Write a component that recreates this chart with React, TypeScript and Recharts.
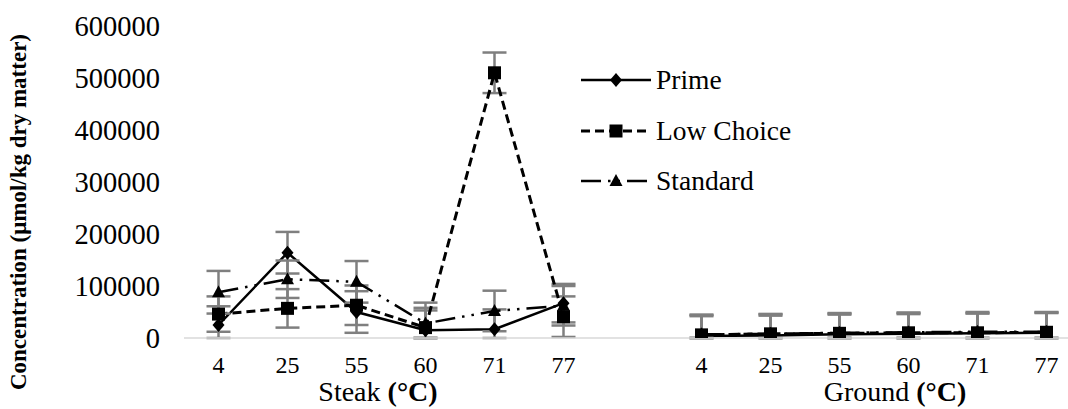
import React from "react";
import { LineChart, Line, XAxis, YAxis, ErrorBar, Legend, Customized } from "recharts";

// --- DATA ---
const TEMPS = ["4", "25", "55", "60", "71", "77"];
const Y_TICKS = [0, 100000, 200000, 300000, 400000, 500000, 600000];

const PRIME_STEAK = [25000, 164000, 50000, 15000, 17000, 67000];
const PRIME_GROUND = [4000, 5000, 7000, 8000, 9000, 10000];
const LOW_CHOICE_STEAK = [46000, 57000, 63000, 20000, 510000, 41000];
const LOW_CHOICE_GROUND = [6000, 8000, 9000, 10000, 10000, 11000];
const STANDARD_STEAK = [88000, 113000, 108000, 28000, 52000, 62000];
const STANDARD_GROUND = [7000, 8000, 10000, 11000, 12000, 12000];

const PRIME_ERR_STEAK = [36000, 40000, 40000, 38000, 38000, 37000];
const PRIME_ERR_GROUND = [38000, 38000, 38000, 38000, 38000, 38000];
const LOW_CHOICE_ERR_STEAK = [34000, 37000, 38000, 38000, 39000, 39000];
const LOW_CHOICE_ERR_GROUND = [38000, 38000, 38000, 38000, 38000, 38000];
const STANDARD_ERR_STEAK = [41000, 36000, 40000, 40000, 39000, 38000];
const STANDARD_ERR_GROUND = [38000, 38000, 38000, 38000, 38000, 38000];

const FONT = "Liberation Serif, serif";
const ERR_COLOR = "#7f7f7f";

// one blank slot separates the two groups
const data = [
  ...TEMPS.map((t, i) => ({
    slot: `steak-${t}`,
    prime: PRIME_STEAK[i],
    lowChoice: LOW_CHOICE_STEAK[i],
    standard: STANDARD_STEAK[i],
    primeErr: PRIME_ERR_STEAK[i],
    lowChoiceErr: LOW_CHOICE_ERR_STEAK[i],
    standardErr: STANDARD_ERR_STEAK[i],
  })),
  { slot: "gap-", prime: null, lowChoice: null, standard: null, primeErr: null, lowChoiceErr: null, standardErr: null },
  ...TEMPS.map((t, i) => ({
    slot: `ground-${t}`,
    prime: PRIME_GROUND[i],
    lowChoice: LOW_CHOICE_GROUND[i],
    standard: STANDARD_GROUND[i],
    primeErr: PRIME_ERR_GROUND[i],
    lowChoiceErr: LOW_CHOICE_ERR_GROUND[i],
    standardErr: STANDARD_ERR_GROUND[i],
  })),
];

// --- MARKERS ---
function Diamond({ cx, cy }: { cx: number; cy: number }) {
  return <polygon points={`${cx},${cy - 7} ${cx + 6},${cy} ${cx},${cy + 7} ${cx - 6},${cy}`} fill="#000" />;
}
function Square({ cx, cy }: { cx: number; cy: number }) {
  return <rect x={cx - 6.5} y={cy - 6.5} width={13} height={13} fill="#000" />;
}
function Triangle({ cx, cy }: { cx: number; cy: number }) {
  return <polygon points={`${cx},${cy - 7} ${cx + 6.5},${cy + 5} ${cx - 6.5},${cy + 5}`} fill="#000" />;
}

const SERIES = [
  { key: "prime", name: "Prime", dash: undefined as string | undefined, width: 2.5, Marker: Diamond },
  { key: "lowChoice", name: "Low Choice", dash: "9 5", width: 3, Marker: Square },
  { key: "standard", name: "Standard", dash: "20 7 2.5 7 2.5 7", width: 2.5, Marker: Triangle },
];

function makeDot(Marker: typeof Diamond) {
  return (p: any) => {
    if (p.cx == null || p.cy == null || p.value == null) return <g key={p.key ?? p.index} />;
    return (
      <g key={p.key ?? p.index}>
        <Marker cx={p.cx} cy={p.cy} />
      </g>
    );
  };
}

// error bars stop at the axis (0), like the original
const errRange = (valueKey: string, errKey: string) => (d: any) =>
  d[valueKey] == null ? null : [Math.min(d[errKey], d[valueKey]), d[errKey]];

function LegendBox() {
  return (
    <div style={{ fontFamily: FONT, fontSize: 27.5, color: "#000" }}>
      {SERIES.map((s) => (
        <div key={s.key} style={{ display: "flex", alignItems: "center", height: 50.5 }}>
          <svg width={72} height={20} style={{ marginRight: 4 }}>
            <line x1={1} y1={10} x2={71} y2={10} stroke="#000" strokeWidth={s.width} strokeDasharray={s.dash} />
            <s.Marker cx={36} cy={10} />
          </svg>
          <span>{s.name}</span>
        </div>
      ))}
    </div>
  );
}

function Labels() {
  return (
    <g fontFamily={FONT} fill="#000">
      <text x={18} y={212} transform="rotate(-90 18 212)" textAnchor="middle" dominantBaseline="central" fontSize={23} fontWeight="bold">
        Concentration (μmol/kg dry matter)
      </text>
      <text x={378} y={401} textAnchor="middle" fontSize={28}>
        Steak <tspan fontWeight="bold">(°C)</tspan>
      </text>
      <text x={895} y={401} textAnchor="middle" fontSize={28}>
        Ground <tspan fontWeight="bold">(°C)</tspan>
      </text>
    </g>
  );
}

export default function App() {
  return (
    <div style={{ position: "absolute", left: 0, top: 0, width: 1068, height: 409, overflow: "hidden", background: "#fff" }}>
      <LineChart width={1081} height={409} data={data} margin={{ top: 26, right: 0, bottom: 11, left: 0 }}>
        <XAxis
          dataKey="slot"
          interval={0}
          tickFormatter={(v: string) => v.split("-")[1] ?? ""}
          padding={{ left: 34.5, right: 34.5 }}
          axisLine={{ stroke: "#d9d9d9", strokeWidth: 1.5 }}
          tickLine={false}
          tickSize={0}
          tickMargin={18}
          height={60}
          tick={{ fill: "#000", fontSize: 24, fontFamily: FONT }}
        />
        <YAxis
          domain={[0, 600000]}
          ticks={Y_TICKS}
          allowDataOverflow
          axisLine={false}
          tickLine={false}
          tickSize={0}
          tickMargin={24}
          width={184}
          tick={{ fill: "#000", fontSize: 28.5, fontFamily: FONT }}
        />
        {SERIES.map((s) => (
          <Line
            key={s.key}
            dataKey={s.key}
            name={s.name}
            stroke="#000"
            strokeWidth={s.width}
            strokeDasharray={s.dash}
            dot={makeDot(s.Marker)}
            activeDot={false}
            isAnimationActive={false}
          >
            <ErrorBar dataKey={errRange(s.key, `${s.key}Err`)} direction="y" width={12} stroke={ERR_COLOR} strokeWidth={2.5} />
          </Line>
        ))}
        <Legend
          layout="vertical"
          verticalAlign="middle"
          align="center"
          content={() => <LegendBox />}
          wrapperStyle={{ left: 580, top: 55, width: 260 }}
        />
        <Customized component={Labels} />
      </LineChart>
    </div>
  );
}
